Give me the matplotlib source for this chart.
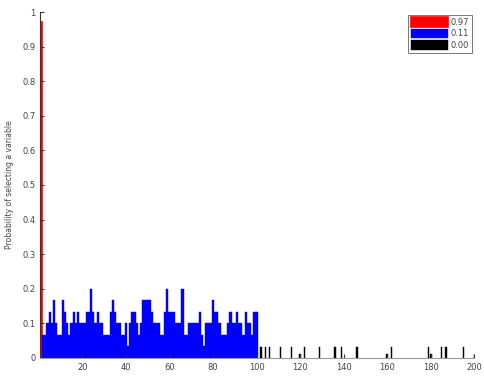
import numpy as np
import matplotlib
matplotlib.use('Agg')
import matplotlib.pyplot as plt

# heights in steps of 1/30
red_x = [1]
red_y = [0.97]

blue_x = list(range(2, 101))
blue_steps = [2, 2, 3, 4, 3, 5, 3, 2, 2, 5, 4, 3, 2, 3, 4, 3, 4, 3, 3,
              3, 4, 4, 6, 4, 3, 4, 3, 3, 2, 2, 2, 4, 5, 4, 3, 3, 2, 2, 3,
              1, 3, 4, 4, 3, 2, 3, 5, 5, 5, 5, 4, 3, 3, 3, 2, 2, 4, 6, 4,
              4, 4, 3, 3, 3, 6, 2, 2, 3, 3, 3, 3, 3, 4, 2, 1, 3, 3, 3, 5,
              4, 4, 3, 2, 2, 2, 3, 4, 3, 3, 4, 3, 3, 2, 4, 3, 3, 2, 4, 4]
blue_y = [s / 30.0 for s in blue_steps]

black_x = [102, 104, 106, 111, 116, 120, 122, 129, 136, 139, 146,
           160, 162, 179, 180, 185, 187, 195, 200]
black_y = [0.033, 0.033, 0.033, 0.033, 0.033, 0.01, 0.033, 0.033, 0.033,
           0.033, 0.033, 0.01, 0.033, 0.033, 0.01, 0.033, 0.033, 0.033, 0.01]

legend_labels = ['0.97', '0.11', '0.00']

fig = plt.figure(figsize=(4.84, 3.76), dpi=100)
ax = fig.add_axes([0.083, 0.048, 0.897, 0.92])

b1 = ax.bar(red_x, red_y, width=0.8, color='red', edgecolor='red', linewidth=1.2)
b2 = ax.bar(blue_x, blue_y, width=1.0, color='blue', edgecolor='blue', linewidth=0.3)
b3 = ax.bar(black_x, black_y, width=0.7, color='black', edgecolor='black', linewidth=0.3)

ax.set_xlim(0.6, 200)
ax.set_ylim(0, 1)
ax.set_xticks(np.arange(20, 201, 20))
ax.set_yticks(np.arange(0, 1.01, 0.1))
ax.set_yticklabels(['0', '0.1', '0.2', '0.3', '0.4', '0.5', '0.6', '0.7', '0.8', '0.9', '1'])
ax.tick_params(direction='in', labelsize=6, length=3, colors='#333333', labelcolor='#444444')
ax.spines['top'].set_visible(False)
ax.spines['right'].set_visible(False)
ax.spines['bottom'].set_color('#999999')
ax.spines['left'].set_color('#333333')
ax.set_ylabel('Probability of selecting a variable', fontsize=5.5, color='#444444', labelpad=6)

leg = ax.legend([b1, b2, b3], legend_labels, loc='upper right', fontsize=6,
                frameon=True, fancybox=False, edgecolor='#555555',
                handlelength=4.5, handleheight=1.4, handletextpad=0.3,
                borderpad=0.3, labelspacing=0.25, borderaxespad=0.3)
leg.get_frame().set_linewidth(0.7)
for t in leg.get_texts():
    t.set_color('#444444')

fig.savefig('out.png', dpi=100)
